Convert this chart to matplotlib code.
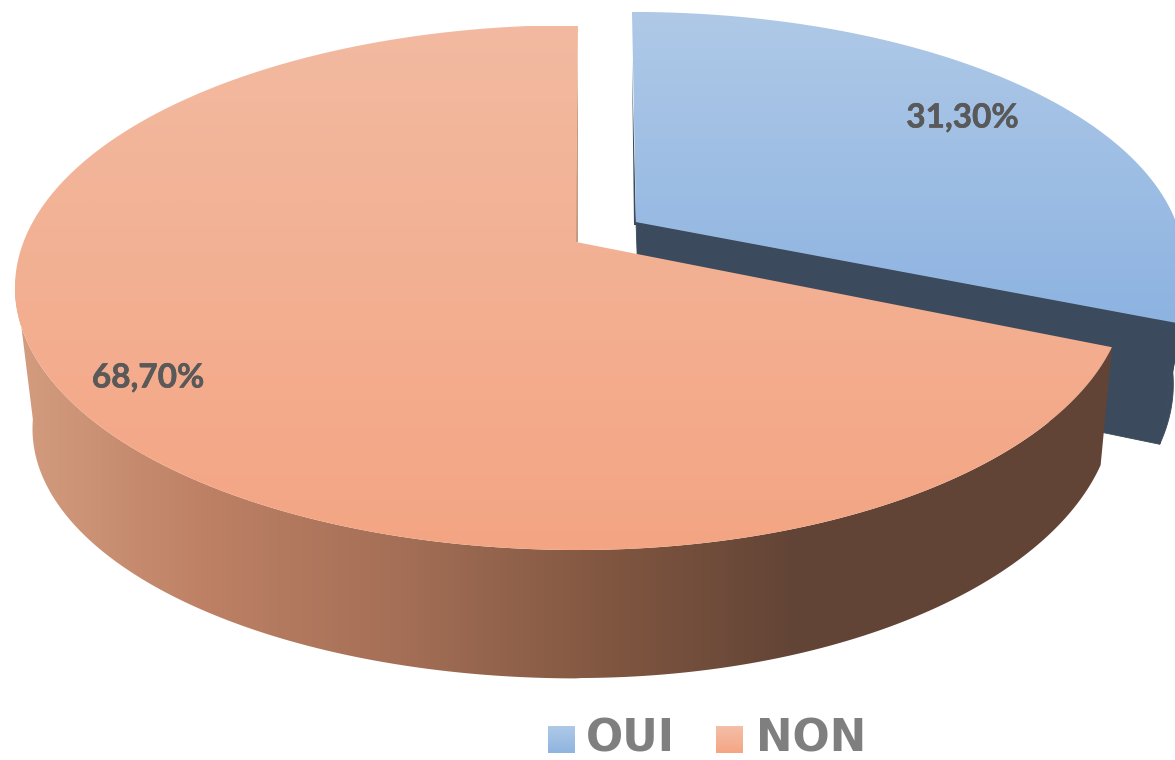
import numpy as np
import matplotlib
matplotlib.use("Agg")
import matplotlib.pyplot as plt
import matplotlib.patheffects as pe
from matplotlib.colors import LinearSegmentedColormap as LSC
from matplotlib.patches import PathPatch
from matplotlib.path import Path

categories = ["OUI", "NON"]
values = [31.30, 68.70]

W, H = 1175, 760
fig = plt.figure(figsize=(W / 100, H / 100), dpi=100)
ax = fig.add_axes([0, 0, 1, 1])
ax.set_xlim(0, W)
ax.set_ylim(H, 0)
ax.axis("off")

K = 0.1733


def plane(cx, a, b, r_left, r_right, k=K, a_left=None, b_left=None, bulge=0.0):
    a_left = a if a_left is None else a_left
    b_left = b if b_left is None else b_left

    def f(deg):
        t = np.radians(np.asarray(deg, dtype=float))
        u, v = np.sin(t), np.cos(t)
        w = 1 + k * v
        r = np.where(u > 0, r_right + bulge * np.maximum(-v, 0), r_left)
        aa = np.where(u >= 0, a, a_left)
        bb = np.where(u >= 0, b, b_left)
        return np.column_stack((cx + r * u / w, (aa + bb * v) / w))
    return f


split = 360 * values[0] / sum(values)

non_top = plane(578, 242, -212.7, 554.5, 540)
non_bot = plane(577, 355, -203.7, 536, 529, 0.176, a_left=385, b_left=-174)
oui_top = plane(632, 222, -208, 541, 544, bulge=30)
oui_bot = plane(640, 337, -200, 525, 525, 0.176)


def poly(pts, fc=None, z=1, ec="none", lw=0):
    path = Path(np.vstack((pts, pts[:1])), closed=True)
    p = PathPatch(path, fc=fc if fc else "none", ec=ec, lw=lw, zorder=z)
    ax.add_patch(p)
    return p


def grad(pts, colors, extent, horizontal=False, z=1):
    cmap = LSC.from_list("g", colors)
    g = np.linspace(0, 1, 512)
    g = g[None, :] if horizontal else g[:, None]
    im = ax.imshow(g, cmap=cmap, extent=extent, aspect="auto", zorder=z, interpolation="bilinear")
    clip = poly(pts, z=z)
    im.set_clip_path(clip)
    return im


DARK = "#3B4A5C"
# OUI: walls
a_o = np.linspace(split, 85, 60)
poly(np.vstack((oui_top([split]), oui_bot(a_o))), DARK, z=1, ec=DARK, lw=0.6)
poly(np.array([(636, 222), oui_top([split])[0], oui_bot([split])[0], (640, 337)]), DARK, z=1.1, ec=DARK, lw=0.6)
poly(np.array([(632, 60), (636, 225), (634, 225)]), DARK, z=1.2)
# OUI: top
a_t = np.linspace(0, split, 200)
oui_face = np.vstack(([(636, 222)], oui_top(a_t)))
grad(oui_face, ["#AFC9E7", "#8DB3E1"], (0, W, 323, 12), z=2)

# NON: wall
a_w = np.linspace(split, 262, 300)
non_wall = np.vstack((non_top(a_w), non_bot(a_w[::-1])))
grad(non_wall,
     [(0.0, "#D49D80"), (0.168, "#BE8165"), (0.35, "#A46F56"),
      (0.55, "#7F5540"), (0.71, "#624436"), (1.0, "#624436")],
     (15, 1115, 760, 0), horizontal=True, z=3)
poly(np.array([(578, 50), (578, 242), (575, 242)]), "#C59B85", z=3.5)
# NON: top
a_n = np.linspace(split, 360, 400)
non_face = np.vstack(([(576, 242)], non_top(a_n)))
grad(non_face, ["#F2BAA1", "#F4A583"], (0, W, 550, 26), z=4)

# labels
fmt = [f"{v:.2f}%".replace(".", ",") for v in values]
stroke = [pe.withStroke(linewidth=0.4, foreground="#595959")]
lab_kw = dict(family="Lato", weight="bold", size=24, color="#595959", ha="center", va="center",
              zorder=6, path_effects=stroke)
ax.text(962.5, 118, fmt[0], **lab_kw)
ax.text(148, 378, fmt[1], **lab_kw)

# legend
swatches = [(548, ["#AFC9E7", "#8FB4E0"]), (716, ["#F5BFA8", "#F4A583"])]
text_x = [586, 756]
for (x0, cols), tx, name in zip(swatches, text_x, categories):
    rect = np.array([(x0, 726), (x0 + 26.5, 726), (x0 + 26.5, 753), (x0, 753)])
    grad(rect, cols, (x0, x0 + 26.5, 753, 726), z=5)
    ax.text(tx, 739.5, name, family="DejaVu Sans", weight="bold", size=31.5, color="#7F7F7F",
            ha="left", va="center", zorder=6)

fig.savefig("out.png", dpi=100, facecolor="white")
